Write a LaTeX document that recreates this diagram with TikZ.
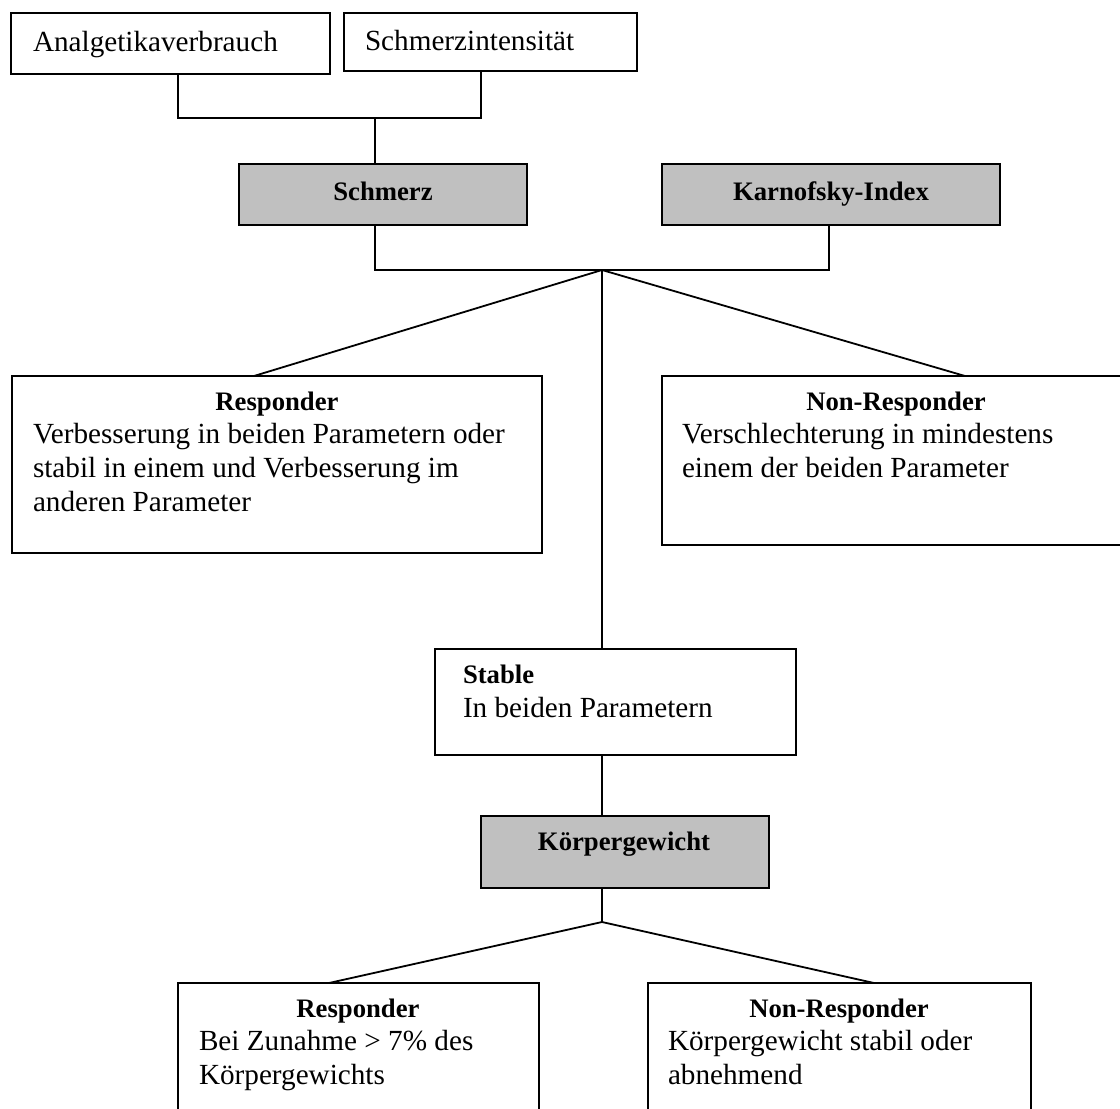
\documentclass[tikz,border=0pt]{standalone}
\usepackage{fontspec}
\setmainfont{Liberation Serif}
\definecolor{boxgray}{HTML}{C0C0C0}
\begin{document}
\begin{tikzpicture}[x=1pt,y=-1pt,
  box/.style={draw, line width=2pt, inner sep=0pt, outer sep=0pt, anchor=north west},
  gbox/.style={box, fill=boxgray},
  conn/.style={line width=1.8pt},
  txt/.style={inner sep=0pt, outer sep=0pt, font=\fontsize{29.2}{34}\selectfont},
  btxt/.style={inner sep=0pt, outer sep=0pt, font=\fontsize{26.7}{32}\selectfont\bfseries}]
\useasboundingbox (0,0) rectangle (1120,1109);
\clip (0,0) rectangle (1120,1109);
\fill[white] (0,0) rectangle (1120,1109);

% boxes
\node[box,  minimum width=319pt, minimum height=61pt]  (ana)   at (11,13)  {};
\node[box,  minimum width=293pt, minimum height=58pt]  (schi)  at (344,13) {};
\node[gbox, minimum width=288pt, minimum height=61pt]  (schm)  at (239,164) {};
\node[gbox, minimum width=338pt, minimum height=61pt]  (karn)  at (662,164) {};
\node[box,  minimum width=530pt, minimum height=177pt] (resp1) at (12,376) {};
\node[box,  minimum width=466pt, minimum height=169pt] (nonr1) at (662,376) {};
\node[box,  minimum width=361pt, minimum height=106pt] (stab)  at (435,649) {};
\node[gbox, minimum width=288pt, minimum height=72pt]  (koerp) at (481,816) {};
\node[box,  minimum width=361pt, minimum height=140pt] (resp2) at (178,983) {};
\node[box,  minimum width=383pt, minimum height=140pt] (nonr2) at (648,983) {};

% junctions
\coordinate (j1) at (375,118);
\coordinate (j2) at (602,270);
\coordinate (j3) at (602,922);

% connectors
\draw[conn] ([xshift=167pt]ana.south west) |- (j1) -| ([xshift=137pt]schi.south west);
\draw[conn] (j1) -- (schm.north -| j1);
\draw[conn] (schm.south -| j1) |- (j2) -| ([xshift=167pt]karn.south west);
\draw[conn] (j2) -- ([xshift=242pt]resp1.north west);
\draw[conn] (j2) -- ([xshift=303pt]nonr1.north west);
\draw[conn] (j2) -- (stab.north -| j2);
\draw[conn] (stab.south -| j2) -- (koerp.north -| j2);
\draw[conn] (koerp.south -| j2) -- (j3);
\draw[conn] (j3) -- ([xshift=151pt]resp2.north west);
\draw[conn] (j3) -- ([xshift=226pt]nonr2.north west);

% texts
\node[txt, anchor=base west] (t-ana) at (33,51) {Analgetikaverbrauch};
\node[txt, anchor=base west] (t-schi) at (365,50) {Schmerzintensität};
\node[btxt, anchor=base] (t-schm) at (383,200) {Schmerz};
\node[btxt, anchor=base] (t-karn) at (831,200) {Karnofsky-Index};

\node[btxt, anchor=base] (t-r1h) at (277,410) {Responder};
\node[txt, anchor=base west] (t-r1a) at (33,443) {Verbesserung in beiden Parametern oder};
\node[txt, anchor=base west] (t-r1b) at (33,477) {stabil in einem und Verbesserung im};
\node[txt, anchor=base west] (t-r1c) at (33,511) {anderen Parameter};

\node[btxt, anchor=base] (t-n1h) at (896,410) {Non-Responder};
\node[txt, anchor=base west] (t-n1a) at (682,443) {Verschlechterung in mindestens};
\node[txt, anchor=base west] (t-n1b) at (682,477) {einem der beiden Parameter};

\node[btxt, anchor=base west] (t-sth) at (463,683) {Stable};
\node[txt, anchor=base west] (t-sta) at (463,717) {In beiden Parametern};

\node[btxt, anchor=base] (t-koerp) at (624,850) {Körpergewicht};

\node[btxt, anchor=base] (t-r2h) at (358,1017) {Responder};
\node[txt, anchor=base west] (t-r2a) at (199,1050) {Bei Zunahme > 7\% des};
\node[txt, anchor=base west] (t-r2b) at (199,1084) {Körpergewichts};

\node[btxt, anchor=base] (t-n2h) at (839,1017) {Non-Responder};
\node[txt, anchor=base west] (t-n2a) at (668,1050) {Körpergewicht stabil oder};
\node[txt, anchor=base west] (t-n2b) at (668,1084) {abnehmend};
\end{tikzpicture}
\end{document}
